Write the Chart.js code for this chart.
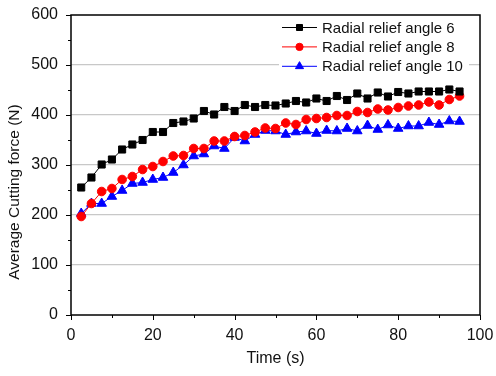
<!DOCTYPE html>
<html>
<head>
<meta charset="utf-8">
<script src="https://cdn.jsdelivr.net/npm/chart.js@4.4.1/dist/chart.umd.min.js"></script>
<style>
html, body { margin: 0; padding: 0; background: #fff; }
</style>
</head>
<body>
<canvas id="force-chart" width="496" height="376"></canvas>
<script>
var time = [2.5, 5, 7.5, 10, 12.5, 15, 17.5, 20, 22.5, 25, 27.5, 30, 32.5, 35, 37.5, 40, 42.5, 45, 47.5,
    50, 52.5, 55, 57.5, 60, 62.5, 65, 67.5, 70, 72.5, 75, 77.5, 80, 82.5, 85, 87.5, 90, 92.5, 95];

var angle6 = [255, 275, 301, 311, 331, 341, 350, 366, 366, 384, 387, 393, 408, 401, 416, 408, 420, 416, 420,
    419, 423, 428, 425, 433, 428, 438, 430, 443, 433, 445, 437, 446, 443, 447, 447, 447, 451, 447];
var angle8 = [197, 223, 247, 253, 271, 277, 291, 297, 307, 318, 319, 333, 333, 348, 348, 357, 359, 366, 374,
    373, 384, 381, 391, 393, 395, 399, 399, 407, 405, 412, 410, 415, 418, 420, 426, 420, 431, 438];
var angle10 = [203, 223, 223, 237, 249, 263, 265, 271, 275, 285, 300, 318, 322, 338, 333, 355, 348, 361, 369,
    368, 361, 366, 368, 363, 369, 368, 373, 368, 379, 371, 380, 373, 378, 378, 385, 381, 388, 387];

var seriesNames = ['Radial relief angle 6', 'Radial relief angle 8', 'Radial relief angle 10'];
var xTicks = [0, 20, 40, 60, 80, 100];
var yTicks = [0, 100, 200, 300, 400, 500, 600];
var yTitle = 'Average Cutting force (N)';

const FONT = 'Liberation Sans, Arial, sans-serif';

function toPoints(ys) {
    return ys.map(function (y, i) { return {x: time[i], y: y}; });
}

// frame, outward ticks (major + minor), y title and the legend inside the plot
const extras = {
    id: 'extras',
    afterDatasetsDraw(chart) {
        const c = chart.ctx;
        const a = chart.chartArea;
        const xs = chart.scales.x;
        const ys = chart.scales.y;
        c.save();

        // legend box
        const lx = 279, ly = 17, rowH = 19.4;
        c.fillStyle = '#fff';
        c.fillRect(lx, ly, 190, 59);
        c.font = '15px ' + FONT;
        c.textBaseline = 'middle';
        c.textAlign = 'left';
        chart.data.datasets.forEach(function (ds, i) {
            const y = ly + 10.5 + i * rowH;
            c.strokeStyle = ds.borderColor;
            c.lineWidth = 1;
            c.beginPath();
            c.moveTo(lx + 3, y);
            c.lineTo(lx + 38, y);
            c.stroke();
            c.fillStyle = ds.pointBackgroundColor;
            c.strokeStyle = ds.pointBorderColor;
            Chart.helpers.drawPoint(c, {
                pointStyle: ds.pointStyle, radius: ds.pointRadius * 0.85, rotation: 0, borderWidth: 1
            }, lx + 20.5, y);
            c.fillStyle = '#111';
            c.fillText(ds.label, lx + 43, y + 1);
        });

        // frame
        c.strokeStyle = '#000';
        c.lineWidth = 1.5;
        c.strokeRect(a.left, a.top, a.right - a.left, a.bottom - a.top);

        // ticks
        c.lineWidth = 1;
        c.beginPath();
        for (let v = xs.min; v <= xs.max; v += 10) {
            const px = Math.round(xs.getPixelForValue(v)) + 0.5;
            c.moveTo(px, a.bottom);
            c.lineTo(px, a.bottom + (v % 20 === 0 ? 5 : 3));
        }
        for (let v = ys.min; v <= ys.max; v += 50) {
            const py = Math.round(ys.getPixelForValue(v)) + 0.5;
            c.moveTo(a.left, py);
            c.lineTo(a.left - (v % 100 === 0 ? 5 : 3), py);
        }
        c.stroke();

        // y title sits a bit below the middle in the original
        c.translate(15, 192);
        c.rotate(-Math.PI / 2);
        c.font = '15.5px ' + FONT;
        c.textAlign = 'center';
        c.fillStyle = '#111';
        c.fillText(yTitle, 0, 0);
        c.restore();
    }
};

new Chart(document.getElementById('force-chart'), {
    type: 'line',
    data: {
        datasets: [{
            label: seriesNames[0],
            data: toPoints(angle6),
            borderColor: '#000',
            pointBackgroundColor: '#000',
            pointBorderColor: '#000',
            pointStyle: 'rect',
            pointRadius: 5
        }, {
            label: seriesNames[1],
            data: toPoints(angle8),
            borderColor: '#ff0000',
            pointBackgroundColor: '#ff0000',
            pointBorderColor: '#ff0000',
            pointStyle: 'circle',
            pointRadius: 4.3
        }, {
            label: seriesNames[2],
            data: toPoints(angle10),
            borderColor: '#0000ff',
            pointBackgroundColor: '#0000ff',
            pointBorderColor: '#0000ff',
            pointStyle: 'triangle',
            pointRadius: 5.5
        }]
    },
    options: {
        responsive: false,
        animation: false,
        devicePixelRatio: 1,
        layout: {
            padding: {left: 0, top: 15, right: 16, bottom: 0}
        },
        elements: {
            line: {borderWidth: 1, tension: 0},
            point: {borderWidth: 1}
        },
        plugins: {
            legend: {display: false},
            tooltip: {enabled: false}
        },
        scales: {
            x: {
                type: 'linear',
                min: 0,
                max: 100,
                afterFit: function (s) {
                    s.height = 61;
                    s.paddingLeft = 0;
                    s.paddingRight = 0;
                },
                afterBuildTicks: function (s) { s.ticks = xTicks.map(function (v) { return {value: v}; }); },
                grid: {display: false, drawTicks: false},
                border: {display: false},
                ticks: {
                    color: '#111',
                    font: {family: FONT, size: 16},
                    padding: 11
                },
                title: {
                    display: true,
                    text: 'Time (s)',
                    color: '#111',
                    font: {family: FONT, size: 16},
                    padding: {top: 0, bottom: 8}
                }
            },
            y: {
                min: 0,
                max: 600,
                afterFit: function (s) {
                    s.width = 71;
                    s.paddingTop = 0;
                    s.paddingBottom = 0;
                },
                afterBuildTicks: function (s) { s.ticks = yTicks.map(function (v) { return {value: v}; }); },
                grid: {
                    drawTicks: false,
                    lineWidth: 1.2,
                    color: function (ctx) {
                        return (ctx.tick && ctx.tick.value > 0 && ctx.tick.value < 600) ? '#c8c8c8' : 'rgba(0,0,0,0)';
                    }
                },
                border: {display: false},
                ticks: {
                    color: '#111',
                    font: {family: FONT, size: 16},
                    padding: 13
                }
            }
        }
    },
    plugins: [extras]
});
</script>
</body>
</html>
